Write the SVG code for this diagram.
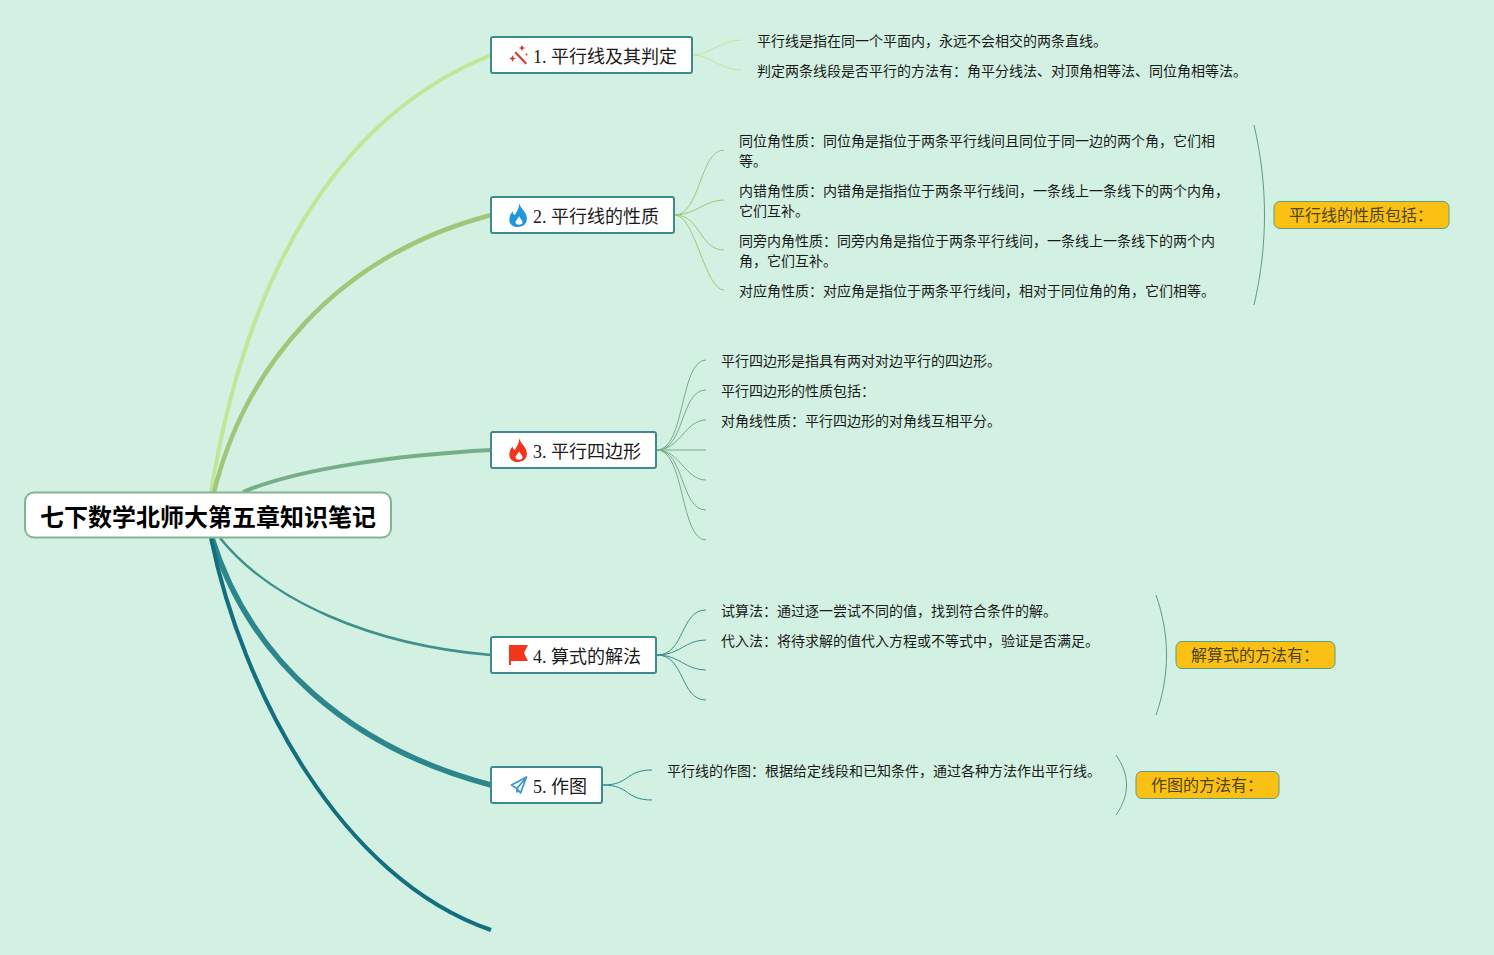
<svg xmlns="http://www.w3.org/2000/svg" width="1494" height="955" viewBox="0 0 1494 955">
<style>
text{font-family:"Liberation Serif","Noto Sans CJK SC",serif;fill:#1a1a1a}
.t{font-size:18px}
.d{font-size:14px}
.c{font-size:16px;fill:#4d4518}
.n{fill:#fff;stroke:#3f8a8c;stroke-width:2}
.y{fill:#fbc014;stroke:#5e9c80;stroke-width:1}
.l{fill:none;stroke-width:1}
.b{fill:none}
</style>
<defs>
<path id="flame" fill-rule="evenodd" d="M518.500 204C519 208 522 210 524 213.500C526.500 218 526 224.500 518 225.500C511 225.500 509 221 510.500 216C511 214.500 512 213 513 212C513 214 514 215 515 215C516.500 212 519 209 518.500 204ZM518.500 216C517 219 515 220 515.500 222C516 224 521 224 521.500 221.500C521.500 219.500 519.500 218 518.500 216Z"/>
</defs>
<rect width="1494" height="955" fill="#d2f1e2"/>
<g id="connectors">
<path class="b" d="M211 492C245 285 330 120 491 55" stroke="#c2e596" stroke-width="4"/>
<path class="b" d="M214 492C245 368 335 256 491 215" stroke="#9fc77a" stroke-width="4.500"/>
<path class="b" d="M243 492C300 468 400 455 491 450" stroke="#77ad88" stroke-width="4"/>
<path class="b" d="M220 538C270 600 370 645 491 655" stroke="#3f8f8c" stroke-width="2.500"/>
<path class="b" d="M212 538C250 660 350 748 491 785" stroke="#2c868c" stroke-width="5.500"/>
<path class="b" d="M211 538C242 690 340 878 491 930" stroke="#136f80" stroke-width="4"/>
<g class="l" stroke="#c6e59c">
<path d="M693 55C710 55 720 40 742 40"/><path d="M693 55C710 55 720 70 742 70"/>
</g>
<g class="l" stroke="#9fc77a">
<path d="M675 215C700 215 700 150 724 150"/><path d="M675 215C695 215 705 200 724 200"/><path d="M675 215C700 215 700 250 724 250"/><path d="M675 215C695 215 705 290 724 290"/>
</g>
<g class="l" stroke="#77ad88">
<path d="M657 450C685 450 680 360 706 360"/><path d="M657 450C685 450 680 390 706 390"/><path d="M657 450C680 450 685 420 706 420"/><path d="M657 450H706"/><path d="M657 450C680 450 685 480 706 480"/><path d="M657 450C685 450 680 510 706 510"/><path d="M657 450C685 450 680 540 706 540"/>
</g>
<g class="l" stroke="#3f8f8c">
<path d="M657 655C685 655 680 610 706 610"/><path d="M657 655C680 655 685 640 706 640"/><path d="M657 655C680 655 685 670 706 670"/><path d="M657 655C685 655 680 700 706 700"/>
</g>
<g class="l" stroke="#2c868c">
<path d="M603 785C630 785 625 770 652 770"/><path d="M603 785C630 785 625 800 652 800"/>
</g>
<g class="l" stroke="#5e9c80">
<path d="M1254 125C1268 185 1268 245 1254 305"/>
<path d="M1156 595C1170 635 1170 675 1156 715"/>
<path d="M1116 755C1130 775 1130 795 1116 815"/>
</g>
</g>
<g id="root">
<rect x="25" y="492.500" width="366" height="45" rx="9" fill="#fff" stroke="#86b392" stroke-width="2"/>
<text x="40" y="526" font-size="24" font-weight="700" style="fill:#000">七下数学北师大第五章知识笔记</text>
</g>
<g id="node1">
<rect class="n" x="491" y="37" width="201" height="36" rx="2"/>
<g fill="#cf3b2c"><path d="M516 51.500L527 63L525.500 64.500L514.500 53Z"/><path d="M522 45l1 2 2 1-2 1-1 2-1-2-2-1 2-1z"/><path d="M512.500 55l1 2.500 2.500 1-2.500 1-1 2.500-1-2.500-2.500-1 2.500-1z"/><circle cx="526.500" cy="54.500" r="1"/></g>
<text class="t" x="533" y="63">1. 平行线及其判定</text>
</g>
<g id="node2">
<rect class="n" x="491" y="197" width="183" height="36" rx="2"/>
<use href="#flame" transform="translate(518.500 215) scale(1.150) translate(-518 -215)" fill="#2196e0"/>
<text class="t" x="533" y="223">2. 平行线的性质</text>
</g>
<g id="node3">
<rect class="n" x="491" y="432" width="165" height="36" rx="2"/>
<use href="#flame" transform="translate(518.500 450) scale(1.150) translate(-518 -215)" fill="#f5341c"/>
<text class="t" x="533" y="458">3. 平行四边形</text>
</g>
<g id="node4">
<rect class="n" x="491" y="637" width="165" height="36" rx="2"/>
<path d="M509 645H528L524 653L528 661H511V665H509Z" fill="#f5341c"/>
<text class="t" x="533" y="663">4. 算式的解法</text>
</g>
<g id="node5">
<rect class="n" x="491" y="767" width="111" height="36" rx="2"/>
<path d="M526.500 777L511.500 785L517 788.500L520.500 793ZM526.500 777L517 788.500V792.500" fill="none" stroke="#3a9bd0" stroke-width="1.800" stroke-linejoin="round"/>
<text class="t" x="533" y="793">5. 作图</text>
</g>
<g id="n1-1"><text class="d" x="757" y="46">平行线是指在同一个平面内，永远不会相交的两条直线。</text></g>
<g id="n1-2"><text class="d" x="757" y="76">判定两条线段是否平行的方法有：角平分线法、对顶角相等法、同位角相等法。</text></g>
<g id="n2-1"><text class="d" x="739" y="146">同位角性质：同位角是指位于两条平行线间且同位于同一边的两个角，它们相</text><text class="d" x="739" y="166">等。</text></g>
<g id="n2-2"><text class="d" x="739" y="196">内错角性质：内错角是指指位于两条平行线间，一条线上一条线下的两个内角，</text><text class="d" x="739" y="216">它们互补。</text></g>
<g id="n2-3"><text class="d" x="739" y="246">同旁内角性质：同旁内角是指位于两条平行线间，一条线上一条线下的两个内</text><text class="d" x="739" y="266">角，它们互补。</text></g>
<g id="n2-4"><text class="d" x="739" y="296">对应角性质：对应角是指位于两条平行线间，相对于同位角的角，它们相等。</text></g>
<g id="n3-1"><text class="d" x="721" y="366">平行四边形是指具有两对对边平行的四边形。</text></g>
<g id="n3-2"><text class="d" x="721" y="396">平行四边形的性质包括：</text></g>
<g id="n3-3"><text class="d" x="721" y="426">对角线性质：平行四边形的对角线互相平分。</text></g>
<g id="n4-1"><text class="d" x="721" y="616">试算法：通过逐一尝试不同的值，找到符合条件的解。</text></g>
<g id="n4-2"><text class="d" x="721" y="646">代入法：将待求解的值代入方程或不等式中，验证是否满足。</text></g>
<g id="n5-1"><text class="d" x="667" y="776">平行线的作图：根据给定线段和已知条件，通过各种方法作出平行线。</text></g>
<g id="s2"><rect class="y" x="1274" y="201.500" width="175" height="27" rx="6"/><text class="c" x="1289" y="221">平行线的性质包括：</text></g>
<g id="s4"><rect class="y" x="1176" y="641.500" width="159" height="27" rx="6"/><text class="c" x="1191" y="661">解算式的方法有：</text></g>
<g id="s5"><rect class="y" x="1136" y="771.500" width="143" height="27" rx="6"/><text class="c" x="1151" y="791">作图的方法有：</text></g>
</svg>
